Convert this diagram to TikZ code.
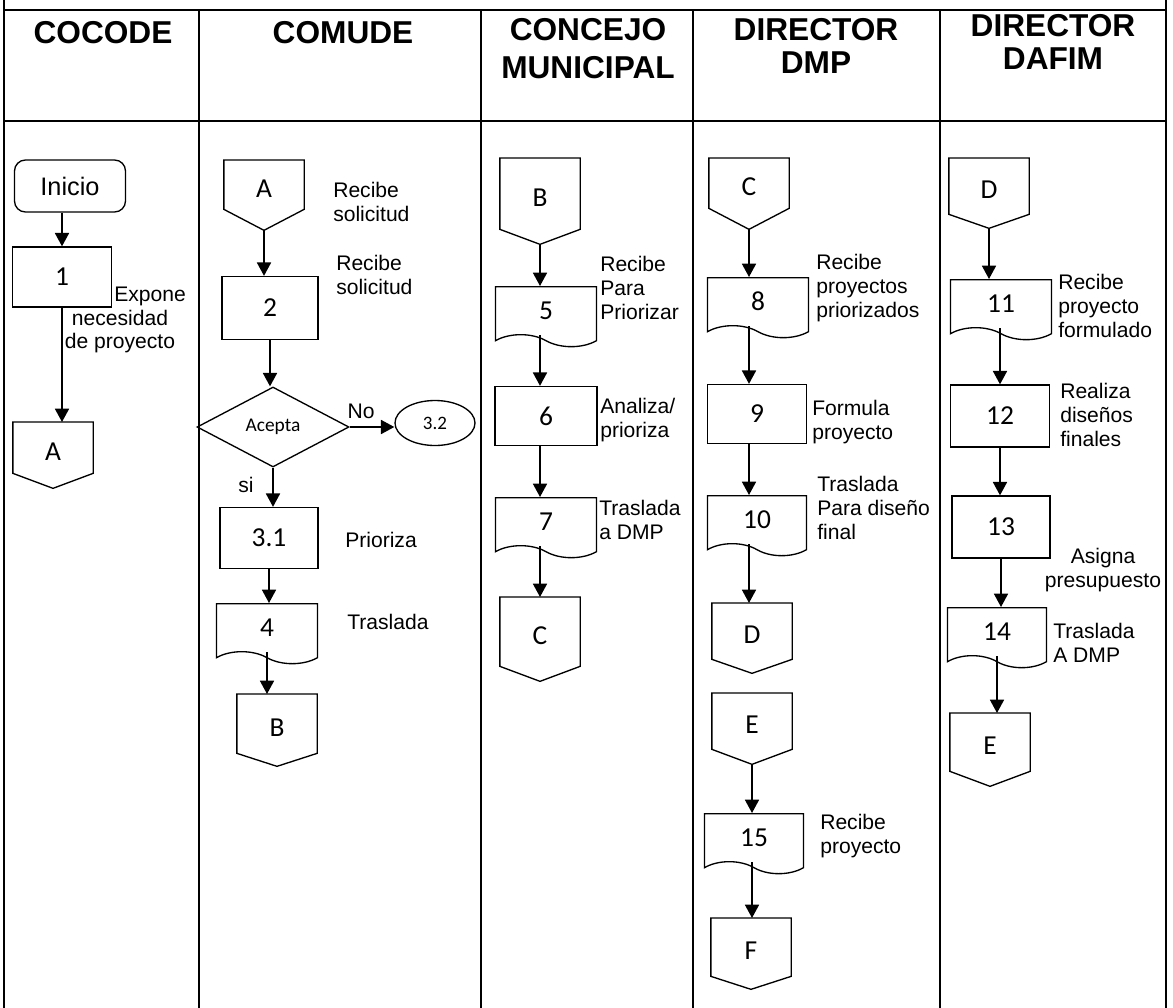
\documentclass[tikz,border=0pt]{standalone}
\usepackage{fontspec}
\setmainfont{Liberation Sans}
\newfontfamily\calibri{Carlito}
\usetikzlibrary{arrows.meta,shapes.geometric,shapes.symbols}
\newlength{\px}
\setlength{\px}{0.025cm}
% off-page connector: outline round a node, point below it
\newcommand{\offpage}[2]{%
  \coordinate (#1tip) at ([yshift=-#2\px]#1.south);
  \draw[outline] (#1.north west) -- (#1.north east) -- (#1.south east)
    -- (#1tip) -- (#1.south west) -- cycle;}

\begin{document}
\begin{tikzpicture}[
  x=0.025cm,
  y=-0.025cm,
  outline/.style={draw, line width=0.95pt},
  head/.style={font=\bfseries\fontsize{22.5}{27}\selectfont, align=center, inner sep=0pt},
  note/.style={font=\fontsize{15}{17}\selectfont, align=left, inner sep=0pt, anchor=west},
  lbl/.style={font=\fontsize{15}{17}\selectfont, inner sep=0pt},
  shp/.style={outline, font=\calibri\fontsize{19.5}{21}\selectfont, inner sep=0pt},
  procbox/.style={shp, rectangle, minimum width=98\px, minimum height=61\px},
  docbox/.style={shp, tape, tape bend top=none, tape bend bottom=out and in, tape bend height=12\px,
    minimum width=101\px, minimum height=60\px, anchor=north},
  connbox/.style={shp, draw=none, rectangle, minimum width=79\px, minimum height=55\px,
    text height=25.5\px, text depth=0pt, anchor=north},
  startbox/.style={shp, rounded corners=11\px, minimum width=111\px, minimum height=52\px,
    font=\fontsize{18}{20}\selectfont},
  decbox/.style={shp, diamond, aspect=1.9, minimum width=152\px, minimum height=80\px,
    font=\calibri\fontsize{13.8}{15}\selectfont},
  endbox/.style={shp, ellipse, minimum width=80\px, minimum height=45\px,
    font=\calibri\fontsize{13.5}{15}\selectfont},
  arrow/.style={-{Triangle[length=9.5pt,width=10pt]}, line width=1.1pt},
  lane/.style={line width=0.8pt}
]
\useasboundingbox (0,0) rectangle (1173,1008);

% swimlanes
\draw[lane] (4,10) -- (1166,10);
\draw[lane] (4,121) -- (1166,121);
\draw[lane] (4,0) -- (4,1008);
\draw[lane] (1166,0) -- (1166,1008);
\foreach \xx in {199,481,693,940}
  \draw[lane] (\xx,10) -- (\xx,1008);

\node[head] (hcocode) at (103,33) {COCODE};
\node[head] (hcomude) at (343,33) {COMUDE};
\node[head] (hconcejo) at (588,49) {CONCEJO\\MUNICIPAL};
\node[head, font=\bfseries\fontsize{22.5}{23}\selectfont] (hdmp) at (816,46) {DIRECTOR\\DMP};
\node[head, font=\bfseries\fontsize{22.5}{23}\selectfont] (hdafim) at (1053,42) {DIRECTOR\\DAFIM};

% COCODE
\node[startbox] (inicio) at (70,186) {Inicio};
\node[procbox, minimum width=99\px, minimum height=60\px] (p1) at (62,277) {1};
\node[note, anchor=center, align=center] (n1) at (120,320) {\hspace*{2.85em}Expone\\necesidad\\de proyecto};
\node[connbox, minimum height=50\px] (ca1) at (53,422) {A};
\offpage{ca1}{15}

% COMUDE
\node[connbox, minimum height=48\px] (ca2) at (264,160) {A};
\offpage{ca2}{21}
\node[note] (n2a) at (333,202) {Recibe\\solicitud};
\node[procbox, minimum width=96\px, minimum height=63\px] (p2) at (270,308) {2};
\node[note] (n2b) at (336,275) {Recibe\\solicitud};
\node[decbox] (acepta) at (273,427) {Acepta};
\node[endbox] (p32) at (435,423) {\raisebox{-4\px}{3.2}};
\node[lbl] (lno) at (361,411) {No};
\node[lbl] (lsi) at (246,485) {si};
\node[procbox] (p31) at (269,538) {3.1};
\node[note] (n31) at (345,540) {Prioriza};
\node[docbox] (d4) at (267,603) {4};
\node[note] (n4) at (347,622) {Traslada};
\node[connbox, minimum height=58\px] (cb2) at (277,694) {B};
\offpage{cb2}{13}

% CONCEJO MUNICIPAL
\node[connbox, minimum height=70\px] (cb3) at (540,158) {B};
\offpage{cb3}{15}
\node[docbox] (d5) at (546,286) {5};
\node[note] (n5) at (600,288) {Recibe\\ Para\\Priorizar};
\node[procbox, minimum width=102\px, minimum height=59\px] (p6) at (546,416) {6};
\node[note] (n6) at (600,420) {Analiza/\\prioriza};
\node[docbox] (d7) at (546,497) {7};
\node[note] (n7) at (599,520) {Traslada\\a DMP};
\node[connbox, minimum height=68\px] (cc3) at (540,597) {C};
\offpage{cc3}{15}

% DIRECTOR DMP
\node[connbox, minimum height=49\px] (cc4) at (749,158) {C};
\offpage{cc4}{21}
\node[docbox] (d8) at (758,277) {8};
\node[note] (n8) at (816,288) {Recibe\\proyectos\\priorizados};
\node[procbox, minimum width=99\px, minimum height=59\px] (p9) at (757,414) {9};
\node[note] (n9) at (812,422) {Formula\\proyecto};
\node[docbox, minimum width=99\px] (d10) at (757,495) {10};
\node[note] (n10) at (817,508) {Traslada\\Para diseño\\final};
\node[connbox] (cd4) at (752,603) {D};
\offpage{cd4}{14}
\node[connbox] (ce4) at (752,693) {E};
\offpage{ce4}{15}
\node[docbox, minimum width=99\px] (d15) at (754,813) {15};
\node[note] (n15) at (820,836) {Recibe\\proyecto};
\node[connbox, minimum height=57\px] (cf4) at (751,918) {F};
\offpage{cf4}{13}

% DIRECTOR DAFIM
\node[connbox] (cd5) at (989,158) {D};
\offpage{cd5}{14}
\node[docbox] (d11) at (1001,279) {11};
\node[note] (n11) at (1058,306) {Recibe\\proyecto\\formulado};
\node[procbox, minimum width=99\px, minimum height=62\px] (p12) at (1000,416) {12};
\node[note] (n12) at (1060,415) {Realiza\\diseños\\finales};
\node[procbox, minimum width=98\px, minimum height=62\px] (p13) at (1001,527) {13};
\node[note, anchor=center, align=center] (n13) at (1103,570) {Asigna\\presupuesto};
\node[docbox, minimum width=99\px] (d14) at (997,607) {14};
\node[note] (n14) at (1053,643) {Traslada\\A DMP};
\node[connbox, minimum height=57\px] (ce5) at (990,713) {E};
\offpage{ce5}{15}

% flow
\draw[arrow] (inicio.south -| p1.north) -- (p1.north);
\draw[arrow] (p1.south) -- (p1.south |- ca1.north);
\draw[arrow] (ca2tip) -- (ca2tip |- p2.north);
\draw[arrow] (p2.south) -- (p2.south |- acepta.north);
\draw[arrow] (acepta.east) -- (acepta.east -| p32.west);
\draw[arrow] (acepta.south) -- (acepta.south |- p31.north);
\draw[arrow] (p31.south) -- (p31.south |- d4.north);
\draw[arrow] (d4.south) -- (d4.south |- cb2.north);
\draw[arrow] (cb3tip) -- (cb3tip |- d5.north);
\draw[arrow] (d5.south -| cb3tip) -- (cb3tip |- p6.north);
\draw[arrow] (p6.south -| cb3tip) -- (cb3tip |- d7.north);
\draw[arrow] (d7.south -| cb3tip) -- (cb3tip |- cc3.north);
\draw[arrow] (cc4tip) -- (cc4tip |- d8.north);
\draw[arrow] (d8.south -| cc4tip) -- (cc4tip |- p9.north);
\draw[arrow] (p9.south -| cc4tip) -- (cc4tip |- d10.north);
\draw[arrow] (d10.south -| cc4tip) -- (cc4tip |- cd4.north);
\draw[arrow] (ce4tip) -- (ce4tip |- d15.north);
\draw[arrow] (d15.south -| ce4tip) -- (ce4tip |- cf4.north);
\draw[arrow] (cd5tip) -- (cd5tip |- d11.north);
\draw[arrow] (d11.south -| p12.north) -- (p12.north);
\draw[arrow] (p12.south) -- (p12.south |- p13.north);
\draw[arrow] (p13.south) -- (p13.south |- d14.north);
\draw[arrow] (d14.south) -- (d14.south |- ce5.north);
\end{tikzpicture}
\end{document}
